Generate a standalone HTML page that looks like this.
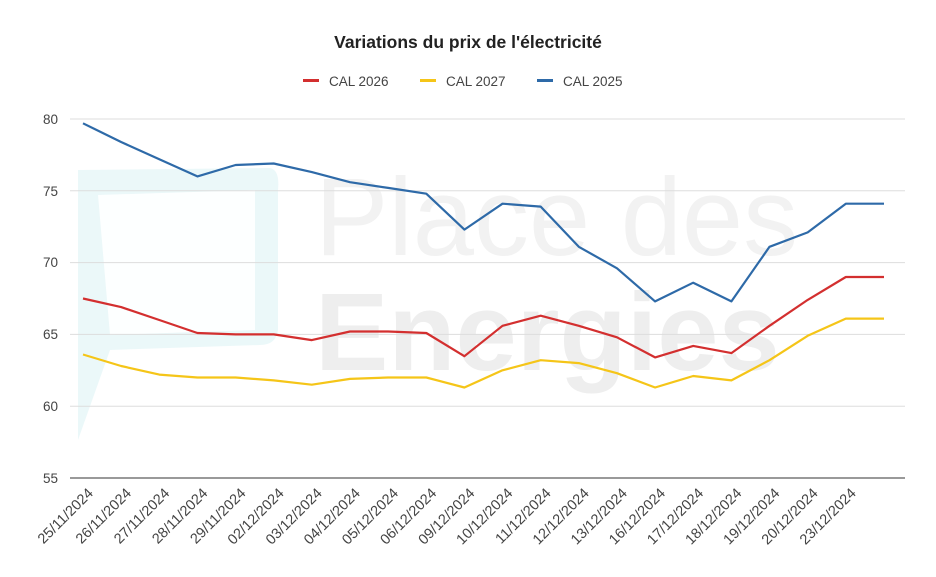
<!DOCTYPE html>
<html><head><meta charset="utf-8"><style>body{margin:0;background:#fff}svg{display:block}</style></head>
<body>
<svg width="936" height="577" xmlns="http://www.w3.org/2000/svg" font-family="Liberation Sans, Arial, sans-serif">
<rect width="936" height="577" fill="#fff"/>
<path d="M78,170 L270,168 Q280,170 278,190 L278,330 Q276,345 260,345 L110,350 L78,440 Z" fill="#e6f6f8" opacity="0.8"/>
<path d="M98,195 L255,190 L255,330 L110,335 Z" fill="#fff" opacity="0.9"/>
<text x="315" y="255" font-size="110" fill="#f2f2f2" font-weight="300">Place des</text>
<text x="315" y="370" font-size="110" fill="#eeeeee" font-weight="bold">Energies</text>
<text x="468" y="48" text-anchor="middle" font-size="17.5" font-weight="bold" fill="#222">Variations du prix de l'électricité</text>
<g font-size="13.5" fill="#444">
<rect x="303" y="79" width="16" height="3" fill="#d32f2f"/><text x="329" y="86">CAL 2026</text>
<rect x="420" y="79" width="16" height="3" fill="#f5c518"/><text x="446" y="86">CAL 2027</text>
<rect x="537" y="79" width="16" height="3" fill="#2e6aa8"/><text x="563" y="86">CAL 2025</text>
</g>
<g stroke="#ddd" stroke-width="1">
<line x1="70" x2="905" y1="119" y2="119"/><line x1="70" x2="905" y1="190.8" y2="190.8"/>
<line x1="70" x2="905" y1="262.6" y2="262.6"/><line x1="70" x2="905" y1="334.4" y2="334.4"/>
<line x1="70" x2="905" y1="406.2" y2="406.2"/>
</g>
<line x1="70" x2="905" y1="478" y2="478" stroke="#333"/>
<g font-size="13.5" fill="#444" text-anchor="end">
<text x="58" y="124">80</text><text x="58" y="196">75</text><text x="58" y="267">70</text>
<text x="58" y="339">65</text><text x="58" y="411">60</text><text x="58" y="483">55</text>
</g>
<g fill="none" stroke-width="2.2" stroke-linejoin="round">
<polyline stroke="#2e6aa8" points="83,123.3 121.1,142 159.3,159.2 197.4,176.4 235.6,165 273.7,163.5 311.8,172.1 350,182.2 388.1,187.9 426.3,193.7 464.4,229.6 502.5,203.7 540.7,206.6 578.8,246.8 617,268.3 655.1,301.4 693.2,282.7 731.4,301.4 769.5,246.8 807.7,232.4 845.8,203.7 884,203.7"/>
<polyline stroke="#d32f2f" points="83,298.5 121.1,307.1 159.3,320 197.4,333 235.6,334.4 273.7,334.4 311.8,340.1 350,331.5 388.1,331.5 426.3,333 464.4,356.2 502.5,325.8 540.7,315.7 578.8,325.8 617,337.3 655.1,357.4 693.2,345.9 731.4,353.1 769.5,325.8 807.7,299.9 845.8,277 884,277"/>
<polyline stroke="#f5c518" points="83,354.5 121.1,366 159.3,374.6 197.4,377.5 235.6,377.5 273.7,380.4 311.8,384.7 350,378.9 388.1,377.5 426.3,377.5 464.4,387.5 502.5,370.3 540.7,360.2 578.8,363.1 617,373.2 655.1,387.5 693.2,376 731.4,380.4 769.5,360.2 807.7,335.8 845.8,318.6 884,318.6"/>
</g>
<g font-size="14.5" fill="#444" text-anchor="end">
<text transform="translate(94,494) rotate(-45)">25/11/2024</text>
<text transform="translate(132.1,494) rotate(-45)">26/11/2024</text>
<text transform="translate(170.3,494) rotate(-45)">27/11/2024</text>
<text transform="translate(208.4,494) rotate(-45)">28/11/2024</text>
<text transform="translate(246.6,494) rotate(-45)">29/11/2024</text>
<text transform="translate(284.7,494) rotate(-45)">02/12/2024</text>
<text transform="translate(322.8,494) rotate(-45)">03/12/2024</text>
<text transform="translate(361,494) rotate(-45)">04/12/2024</text>
<text transform="translate(399.1,494) rotate(-45)">05/12/2024</text>
<text transform="translate(437.3,494) rotate(-45)">06/12/2024</text>
<text transform="translate(475.4,494) rotate(-45)">09/12/2024</text>
<text transform="translate(513.5,494) rotate(-45)">10/12/2024</text>
<text transform="translate(551.7,494) rotate(-45)">11/12/2024</text>
<text transform="translate(589.8,494) rotate(-45)">12/12/2024</text>
<text transform="translate(628,494) rotate(-45)">13/12/2024</text>
<text transform="translate(666.1,494) rotate(-45)">16/12/2024</text>
<text transform="translate(704.2,494) rotate(-45)">17/12/2024</text>
<text transform="translate(742.4,494) rotate(-45)">18/12/2024</text>
<text transform="translate(780.5,494) rotate(-45)">19/12/2024</text>
<text transform="translate(818.7,494) rotate(-45)">20/12/2024</text>
<text transform="translate(856.8,494) rotate(-45)">23/12/2024</text>
</g>
</svg>
</body></html>
